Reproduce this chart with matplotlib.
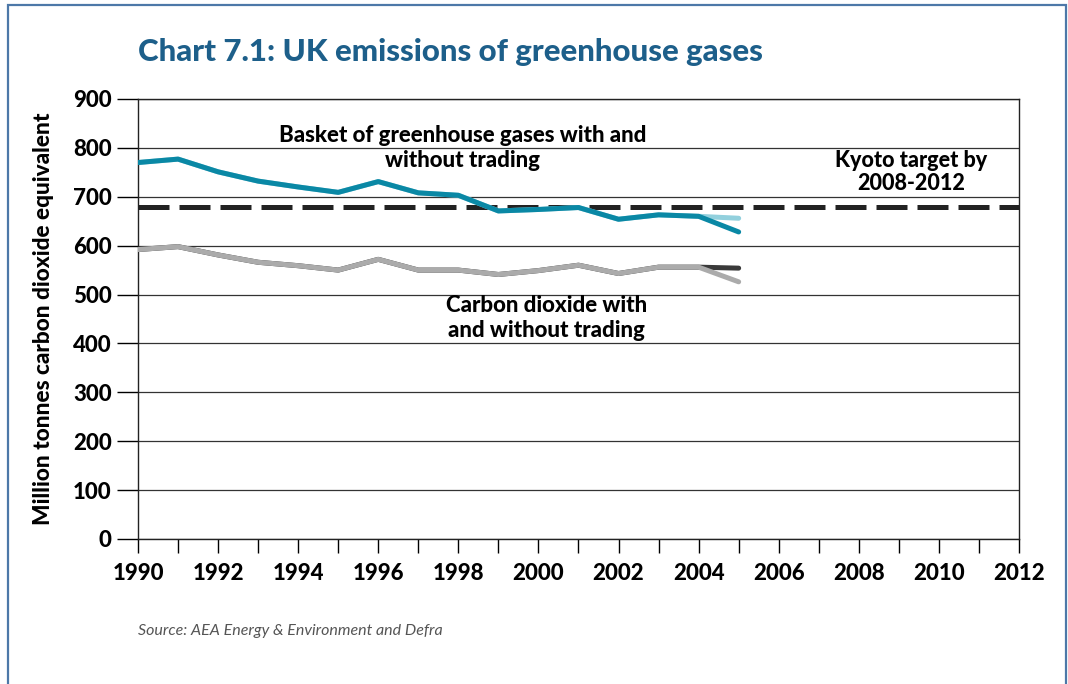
import matplotlib.pyplot as plt
from matplotlib.patches import Rectangle

years = list(range(1990, 2006))
basket_without = [770, 777, 751, 732, 720, 709, 731, 708, 703, 671, 674, 678, 654, 663, 660, 656]
basket_with = [770, 777, 751, 732, 720, 709, 731, 708, 703, 671, 674, 678, 654, 663, 660, 628]
co2_without = [592, 598, 581, 566, 559, 550, 572, 550, 550, 541, 549, 560, 543, 556, 556, 554]
co2_with = [592, 598, 581, 566, 559, 550, 572, 550, 550, 541, 549, 560, 543, 556, 556, 526]
kyoto_target = 680
x_range = [1990, 2012]
y_ticks = list(range(0, 1000, 100))
x_ticks = list(range(1990, 2013, 2))

FONT = "Lato"
W = 900


def main():
    plt.rcParams["font.family"] = [FONT, "DejaVu Sans"]
    fig = plt.figure(figsize=(10.68, 6.84), dpi=100)
    ax = fig.add_axes([0.1292, 0.212, 0.8249, 0.6433])

    # frame round the whole chart
    fig.patches.append(Rectangle((8 / 1068, -0.1), 1058 / 1068, 1.1 - 5 / 684,
                                 transform=fig.transFigure, fill=False,
                                 edgecolor="#4d78a8", linewidth=1.6))

    ax.plot(x_range, [kyoto_target, kyoto_target], color="#222222", lw=3.6,
            dashes=(6.2, 2.0), zorder=3)
    ax.plot(years, basket_without, color="#92d0dd", lw=3.6, zorder=4,
            solid_capstyle="round")
    ax.plot(years, basket_with, color="#0a88a5", lw=3.6, zorder=5,
            solid_capstyle="round")
    ax.plot(years, co2_without, color="#3a3a3a", lw=3.6, zorder=4,
            solid_capstyle="round")
    ax.plot(years, co2_with, color="#ababab", lw=3.6, zorder=5,
            solid_capstyle="round")

    ax.set_xlim(x_range)
    ax.set_ylim(0, 900)
    ax.set_yticks(y_ticks)
    ax.set_xticks(range(1990, 2013))
    ax.set_xticklabels([str(y) if y in x_ticks else "" for y in range(1990, 2013)])
    ax.grid(axis="y", color="#333333", lw=0.9)
    ax.set_axisbelow(True)
    for s in ax.spines.values():
        s.set_color("#222222")
        s.set_linewidth(1.0)
    ax.tick_params(axis="y", length=15, width=1, pad=4, labelsize=16)
    ax.tick_params(axis="x", length=10, width=1, pad=7, labelsize=16)
    for lab in ax.get_xticklabels() + ax.get_yticklabels():
        lab.set_fontweight(W)

    ax.set_ylabel("Million tonnes carbon dioxide equivalent", fontsize=16.3,
                  fontweight=W)
    ax.yaxis.set_label_coords(-0.095, 0.5)

    ax.text(1998.1, 800, "Basket of greenhouse gases with and\nwithout trading",
            ha="center", va="center", fontsize=16, fontweight=W,
            linespacing=1.25)
    ax.text(2009.3, 750, "Kyoto target by\n2008-2012", ha="center", va="center",
            fontsize=15.5, fontweight=W, linespacing=1.1)
    ax.text(2000.2, 452, "Carbon dioxide with\nand without trading",
            ha="center", va="center", fontsize=16, fontweight=W,
            linespacing=1.25)

    fig.text(138 / 1068, 1 - 52 / 684, "Chart 7.1: UK emissions of greenhouse gases",
             ha="left", va="center", fontsize=22.5, fontweight=W, color="#1d5f8a")
    fig.text(138 / 1068, 1 - 631 / 684, "Source: AEA Energy & Environment and Defra",
             ha="left", va="center", fontsize=11.5, style="italic", color="#555555")

    fig.savefig("out.png", dpi=100)


if __name__ == "__main__":
    main()
